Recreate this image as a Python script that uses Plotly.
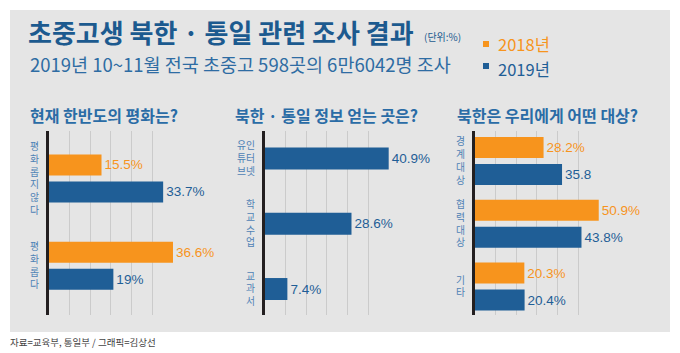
import plotly.graph_objects as go

W, H = 680, 353

# ---------------- data ----------------
series_names = ["2018년", "2019년"]
series_colors = ["#F7941D", "#1F5E96"]

title_text = "초중고생 북한 · 통일 관련 조사 결과"
unit_text = "(단위:%)"
subtitle_text = "2019년 10~11월 전국 초중고 598곳의 6만6042명 조사"
source_text = "자료=교육부, 통일부 / 그래픽=김상선"

p1_title = "현재 한반도의 평화는?"
p1_cats = ["평화롭지 않다", "평화롭다"]
p1_ticks = ["평<br>화<br>롭<br>지<br>않<br>다", "평<br>화<br>롭<br>다"]
p1_2018 = [15.5, 36.6]
p1_2019 = [33.7, 19]
p1_2018_text = ["15.5%", "36.6%"]
p1_2019_text = ["33.7%", "19%"]

p2_title = "북한 · 통일 정보 얻는 곳은?"
p2_cats = ["유튜브·인터넷", "학교수업", "교과서"]
p2_ticks = ["유인<br>튜터<br>브넷", "학<br>교<br>수<br>업", "교<br>과<br>서"]
p2_2019 = [40.9, 28.6, 7.4]
p2_2019_text = ["40.9%", "28.6%", "7.4%"]

p3_title = "북한은 우리에게 어떤 대상?"
p3_cats = ["경계대상", "협력대상", "기타"]
p3_ticks = ["경<br>계<br>대<br>상", "협<br>력<br>대<br>상", "기<br>타"]
p3_2018 = [28.2, 50.9, 20.3]
p3_2019 = [35.8, 43.8, 20.4]
p3_2018_text = ["28.2%", "50.9%", "20.3%"]
p3_2019_text = ["35.8", "43.8%", "20.4%"]

# ---------------- helpers ----------------
def px(x):
    return x / W

def py(y):
    return 1 - y / H

KFONT = "Noto Sans CJK KR"
NFONT = "Liberation Sans, Arial"
TITLE_BLUE = "#1C5A8F"
PANEL_BLUE = "#2A6CA6"
TICK_BLUE = "#4F82B5"

fig = go.Figure()

panels = [
    dict(s="", x0=49, x1=173, rmax=36.6, yr=[1.565, -0.544], w=0.241,
         offs=[-0.275, 0.034], cats=p1_cats, ticks=p1_ticks,
         data=[(0, p1_2018, p1_2018_text), (1, p1_2019, p1_2019_text)]),
    dict(s="2", x0=265, x1=389, rmax=41.0, yr=[2.398, -0.4215], w=0.337,
         offs=[None], cats=p2_cats, ticks=p2_ticks,
         data=[(1, p2_2019, p2_2019_text)]),
    dict(s="3", x0=475, x1=599, rmax=51.0, yr=[2.454, -0.478], w=0.335,
         offs=[-0.3825, 0.0475], cats=p3_cats, ticks=p3_ticks,
         data=[(0, p3_2018, p3_2018_text), (1, p3_2019, p3_2019_text)]),
]

y_top, y_bot = 131, 315

for p in panels:
    xa = "x" + p["s"]
    ya = "y" + p["s"]
    for k, (si, vals, txt) in enumerate(p["data"]):
        kw = {}
        if p["offs"][k] is not None:
            kw["offset"] = p["offs"][k]
        fig.add_trace(go.Bar(
            x=vals, y=p["cats"], orientation="h",
            name=series_names[si],
            marker=dict(color=series_colors[si], line=dict(width=0)),
            width=p["w"], text=txt, textposition="outside",
            textfont=dict(family=NFONT, size=13.5, color=series_colors[si]),
            constraintext="none", cliponaxis=False,
            xaxis=xa, yaxis=ya, showlegend=False, hoverinfo="skip",
            **kw,
        ))
    fig.update_layout(**{
        "xaxis" + p["s"]: dict(
            domain=[px(p["x0"]), px(p["x1"])], anchor=ya,
            range=[0, p["rmax"] * 1.0001], tick0=0, dtick=p["rmax"] / 6,
            showgrid=True, gridcolor="#CBCBCB", gridwidth=1,
            zeroline=False, showline=False, showticklabels=False, ticks="",
        ),
        "yaxis" + p["s"]: dict(
            domain=[py(y_bot), py(y_top)], anchor=xa,
            type="category", categoryorder="array", categoryarray=p["cats"],
            tickvals=p["cats"], ticktext=p["ticks"], range=p["yr"],
            showline=True, linecolor="#231F20", linewidth=3,
            showgrid=False, zeroline=False, ticks="",
            ticklabelstandoff=5,
            tickfont=dict(family=KFONT, size=9.8, color=TICK_BLUE),
        ),
    })

shapes = [
    dict(type="rect", xref="paper", yref="paper",
         x0=px(10), x1=px(670), y0=py(332), y1=py(10),
         fillcolor="#E5E5E5", line=dict(width=0), layer="below"),
    dict(type="rect", xref="paper", yref="paper",
         x0=px(483), x1=px(489), y0=py(47), y1=py(41),
         fillcolor=series_colors[0], line=dict(width=0)),
    dict(type="rect", xref="paper", yref="paper",
         x0=px(483), x1=px(489), y0=py(69), y1=py(63),
         fillcolor=series_colors[1], line=dict(width=0)),
]

def ann(text, x, y, size, color, bold=False, family=KFONT):
    return dict(text=("<b>%s</b>" % text) if bold else text,
                x=px(x), y=py(y), xref="paper", yref="paper",
                xanchor="left", yanchor="middle", showarrow=False,
                font=dict(family=family, size=size, color=color))

annotations = [
    ann(title_text, 26, 31, 26, TITLE_BLUE, bold=True),
    ann(unit_text, 422, 37, 10, TITLE_BLUE),
    ann(subtitle_text, 28, 64, 18.5, "#2E6CA3"),
    ann(series_names[0], 496, 44, 16.5, series_colors[0]),
    ann(series_names[1], 496, 69, 16.5, series_colors[1]),
    ann(p1_title, 28, 115, 16, PANEL_BLUE, bold=True),
    ann(p2_title, 233, 115, 16, PANEL_BLUE, bold=True),
    ann(p3_title, 455, 115, 16, PANEL_BLUE, bold=True),
    ann(source_text, 8, 342, 9.5, "#444444"),
]

fig.update_layout(
    width=W, height=H, autosize=False,
    margin=dict(l=0, r=0, t=0, b=0),
    paper_bgcolor="white", plot_bgcolor="rgba(0,0,0,0)",
    barmode="overlay", showlegend=False,
    shapes=shapes, annotations=annotations,
    font=dict(family=KFONT),
)

fig.write_html("out.html", config={"displayModeBar": False})
